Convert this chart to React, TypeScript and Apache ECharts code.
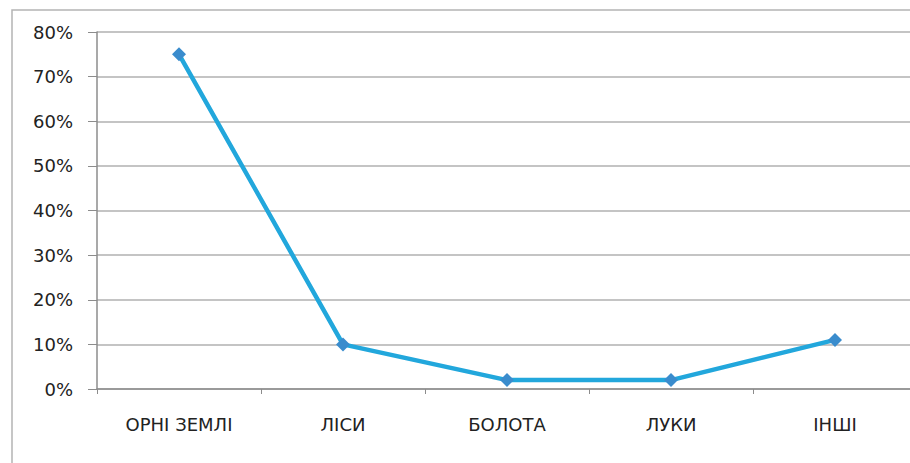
import React, { useEffect, useRef } from "react";
import * as echarts from "echarts";

const categories = ["ОРНІ ЗЕМЛІ", "ЛІСИ", "БОЛОТА", "ЛУКИ", "ІНШІ"];
const values = [75, 10, 2, 2, 11];

export default function App() {
  const ref = useRef<HTMLDivElement>(null);
  useEffect(() => {
    if (!ref.current) return;
    const chart = echarts.init(ref.current, null, { renderer: "svg" });
    chart.setOption({
      animation: false,
      backgroundColor: "#ffffff",
      textStyle: { fontFamily: "DejaVu Sans, sans-serif" },
      graphic: [
        {
          type: "rect",
          shape: { x: 12, y: 10, width: 960, height: 500 },
          style: { fill: "none", stroke: "#b4b4b4", lineWidth: 1.5 },
          silent: true,
        },
      ],
      grid: { left: 97, top: 32, bottom: 74, right: 3, containLabel: false },
      xAxis: {
        type: "category",
        data: categories,
        boundaryGap: true,
        axisLine: { lineStyle: { color: "#8c8c8c", width: 1.5 } },
        axisTick: { show: true, length: 5, alignWithLabel: false, lineStyle: { color: "#8c8c8c" } },
        axisLabel: { color: "#222", fontSize: 18, margin: 26, interval: 0 },
      },
      yAxis: {
        type: "value",
        min: 0,
        max: 80,
        interval: 10,
        axisLine: { show: true, lineStyle: { color: "#8c8c8c", width: 1.5 } },
        axisTick: { show: true, length: 9, lineStyle: { color: "#8c8c8c" } },
        axisLabel: { color: "#222", fontSize: 18, margin: 24, formatter: "{value}%" },
        splitLine: { lineStyle: { color: "#b0b0b0", width: 1.5 } },
      },
      series: [
        {
          type: "line",
          data: values,
          symbol: "diamond",
          symbolSize: 14,
          lineStyle: { color: "#22a7dc", width: 4.5 },
          itemStyle: { color: "#3a8ccd" },
        },
      ],
    });
    return () => chart.dispose();
  }, []);
  return (
    <div
      ref={ref}
      style={{ position: "fixed", left: 0, top: 0, width: 920, height: 463 }}
    />
  );
}
